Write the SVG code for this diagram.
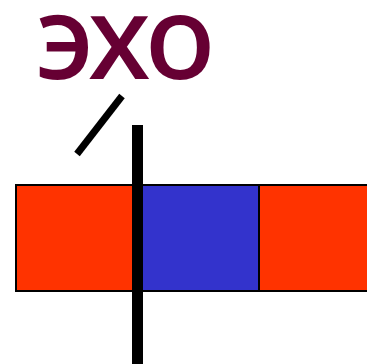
<svg xmlns="http://www.w3.org/2000/svg" width="367" height="364" viewBox="0 0 367 364">
<style>
.lbl{font-family:"Noto Sans","DejaVu Sans",sans-serif;font-size:116px;font-weight:500;fill:#660033}
.seg{stroke:#000;stroke-width:2}
</style>
<rect width="367" height="364" fill="#fff"/>
<g id="seg-left"><rect class="seg" x="16" y="185" width="117" height="106" fill="#ff3300"/></g>
<g id="seg-mid"><rect class="seg" x="133" y="185" width="126" height="106" fill="#3333cc"/></g>
<g id="seg-right"><rect class="seg" x="259" y="185" width="110" height="106" fill="#ff3300"/></g>
<g id="label"><text class="lbl" x="35" y="79" textLength="180" lengthAdjust="spacing">эхо</text></g>
<g id="connectors">
<line x1="137.5" y1="125" x2="137.5" y2="364" stroke="#000" stroke-width="11"/>
<line x1="77" y1="154" x2="122" y2="96" stroke="#000" stroke-width="7"/>
</g>
</svg>
